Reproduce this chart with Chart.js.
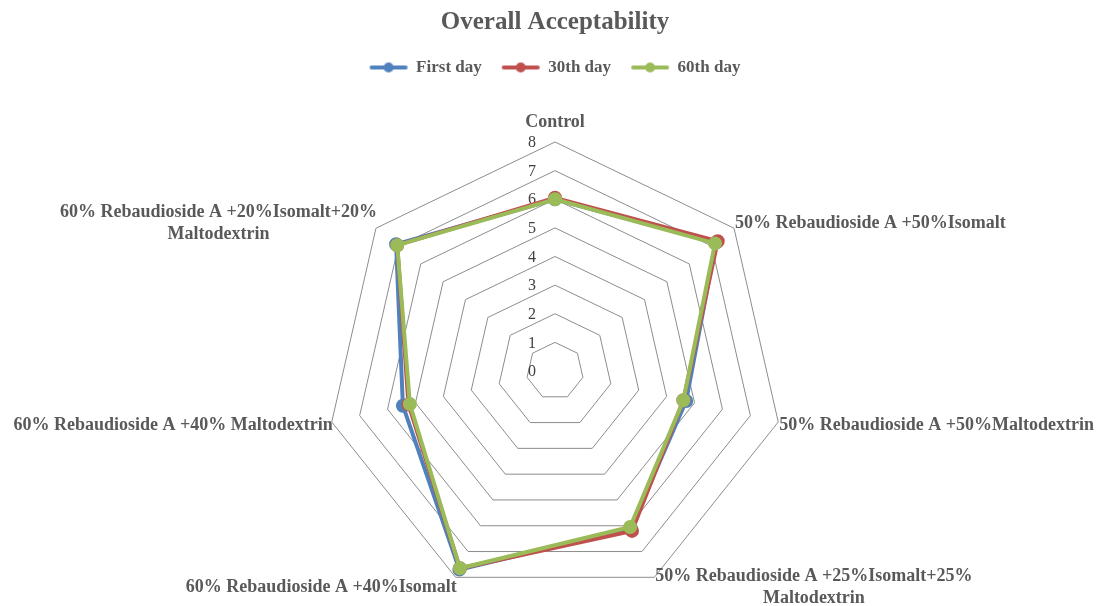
<!DOCTYPE html>
<html>
<head>
<meta charset="utf-8">
<script src="https://cdn.jsdelivr.net/npm/chart.js@4"></script>
<style>
  html, body { margin: 0; padding: 0; background: #fff; }
  #wrap { width: 1099px; height: 606px; }
</style>
</head>
<body>
<div id="wrap"><canvas id="myChart" width="1099" height="606"></canvas></div>
<script>
  // categories, clockwise from the top
  var categories = [
    'Control',
    '50% Rebaudioside A +50%Isomalt',
    '50% Rebaudioside A +50%Maltodextrin',
    ['50% Rebaudioside A +25%Isomalt+25%', 'Maltodextrin'],
    '60% Rebaudioside A +40%Isomalt',
    '60% Rebaudioside A +40% Maltodextrin',
    ['60% Rebaudioside A +20%Isomalt+20%', 'Maltodextrin']
  ];
  var seriesNames = ['First day', '30th day', '60th day'];
  var firstDay = [6.0, 7.2, 4.7, 6.1, 7.7, 5.45, 7.1];
  var day30 = [6.05, 7.27, 4.6, 6.2, 7.65, 5.25, 7.05];
  var day60 = [6.0, 7.15, 4.6, 6.05, 7.65, 5.2, 7.05];
  var tickValues = [0, 1, 2, 3, 4, 5, 6, 7, 8];

  var colors = ['#4F81BD', '#C0504D', '#9BBB59'];
  var textColor = '#595959';
  var serif = "'Liberation Serif', 'Times New Roman', serif";
  var legendExtra = 56; // empty room under the legend row

  // little line-with-dot marker for the legend
  function legendMarker(color) {
    var c = document.createElement('canvas');
    c.width = 40; c.height = 12;
    var g = c.getContext('2d');
    g.strokeStyle = color;
    g.lineWidth = 4;
    g.lineCap = 'round';
    g.beginPath(); g.moveTo(3, 6); g.lineTo(37, 6); g.stroke();
    g.fillStyle = color;
    g.beginPath(); g.arc(20, 6, 5, 0, Math.PI * 2); g.fill();
    return c;
  }

  var legendRoom = {
    id: 'legendRoom',
    afterInit: function(chart) {
      var lg = chart.legend;
      var fit = lg.fit;
      lg.fit = function() {
        fit.call(this);
        this.height += legendExtra;
      };
    }
  };

  // tick numbers sit a bit left of the top spoke
  var tickLabels = {
    id: 'tickLabels',
    beforeDatasetsDraw: function(chart) {
      var s = chart.scales.r;
      var ctx = chart.ctx;
      ctx.save();
      ctx.font = '16px ' + serif;
      ctx.fillStyle = '#404040';
      ctx.textAlign = 'center';
      ctx.textBaseline = 'middle';
      tickValues.forEach(function(v) {
        var y = s.yCenter - s.getDistanceFromCenterForValue(v);
        ctx.fillText(String(v), s.xCenter - 23, y + 1);
      });
      ctx.restore();
    }
  };

  // category names placed round the outer ring, the way the spreadsheet does it
  var categoryLabels = {
    id: 'categoryLabels',
    afterDraw: function(chart) {
      var s = chart.scales.r;
      var ctx = chart.ctx;
      var lh = 22;
      ctx.save();
      ctx.font = 'bold 18px ' + serif;
      ctx.fillStyle = textColor;
      ctx.textAlign = 'center';
      ctx.textBaseline = 'middle';
      categories.forEach(function(lab, i) {
        var lines = [].concat(lab);
        var p = s.getPointPosition(i, s.drawingArea);
        var w = Math.max.apply(null, lines.map(function(t) { return ctx.measureText(t).width; }));
        var dx = p.x - s.xCenter;
        var dy = p.y - s.yCenter;
        var cx, cy;
        if (Math.abs(dx) < 1) {
          cx = p.x;
        } else if (dx > 0) {
          cx = p.x + 1 + w / 2;
        } else {
          cx = p.x + 1 - w / 2;
        }
        if (Math.abs(dx) < 1) {
          cy = p.y - 20;
        } else if (dy < -50) {
          cy = p.y - 5;
        } else if (dy < 100) {
          cy = p.y + 3;
        } else {
          cy = p.y + 10;
        }
        var y0 = cy - (lines.length - 1) * lh / 2;
        lines.forEach(function(t, k) {
          ctx.fillText(t, cx, y0 + k * lh);
        });
      });
      ctx.restore();
    }
  };

  var sets = [firstDay, day30, day60].map(function(d, i) {
    return {
      label: seriesNames[i],
      data: d,
      borderColor: colors[i],
      backgroundColor: colors[i],
      pointBackgroundColor: colors[i],
      pointBorderColor: colors[i],
      borderWidth: 4,
      pointRadius: 5,
      fill: false,
      order: 3 - i
    };
  });

  var ctx = document.getElementById('myChart');
  var myChart = new Chart(ctx, {
    type: 'radar',
    data: {
      labels: categories,
      datasets: sets
    },
    options: {
      responsive: false,
      animation: false,
      layout: {
        padding: { top: 0, bottom: 6, left: 11, right: 0 }
      },
      elements: { line: { tension: 0 } },
      plugins: {
        title: {
          display: true,
          text: 'Overall Acceptability',
          color: textColor,
          font: { family: serif, size: 25, weight: 'bold' },
          padding: { top: 8, bottom: 1 }
        },
        legend: {
          display: true,
          labels: {
            color: textColor,
            font: { family: serif, size: 17, weight: 'bold' },
            usePointStyle: true,
            pointStyleWidth: 38,
            padding: 20,
            generateLabels: function(chart) {
              return chart.data.datasets.map(function(ds, i) {
                return {
                  text: ds.label,
                  pointStyle: legendMarker(colors[i]),
                  fillStyle: colors[i],
                  strokeStyle: colors[i],
                  fontColor: textColor,
                  lineWidth: 0,
                  datasetIndex: i
                };
              });
            }
          }
        },
        tooltip: { enabled: false }
      },
      scales: {
        r: {
          min: 0,
          max: 8,
          ticks: { stepSize: 1, display: false },
          angleLines: { display: false },
          grid: { color: '#8C8C8C', lineWidth: 1 },
          pointLabels: { display: false }
        }
      }
    },
    plugins: [legendRoom, tickLabels, categoryLabels]
  });
</script>
</body>
</html>
